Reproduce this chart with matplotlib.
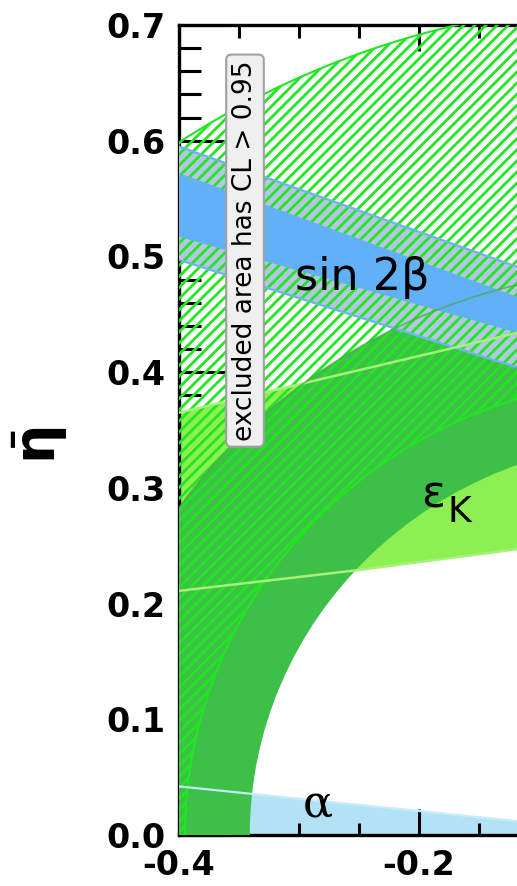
import matplotlib
matplotlib.use("Agg")
import matplotlib.pyplot as plt
from matplotlib.patches import Wedge, Polygon, Arc
from matplotlib.ticker import MultipleLocator


plt.rcParams["font.family"] = ["DejaVu Sans"]
plt.rcParams["mathtext.fontset"] = "dejavusans"
plt.rcParams["hatch.linewidth"] = 2.0

RHO_RANGE = (-0.4, -0.118)
ETA_RANGE = (0.0, 0.7)

# circular constraints centred on (0, 0), radii
HATCH_RADII = (0.395, 0.72)
BAND_RADII = (0.341, 0.49)

# eps_K band edges
EPSK_LOW_RHO = [-0.4, -0.25, -0.118]
EPSK_LOW_ETA = [0.211, 0.229, 0.247]
EPSK_HIGH_RHO = [-0.4, -0.118]
EPSK_HIGH_ETA = [0.365, 0.434]

# sin 2beta band edges at the two ends of the x range
S2B_RHO = [-0.4, -0.118]
S2B_OUTER_TOP = [0.595, 0.491]
S2B_INNER_TOP = [0.572, 0.465]
S2B_INNER_BOT = [0.517, 0.434]
S2B_OUTER_BOT = [0.497, 0.404]

# alpha band top edge
ALPHA_RHO = [-0.4, -0.118]
ALPHA_TOP = [0.042, 0.012]
ALPHA_BOT = [0.0, 0.0]

X_TICKS = [-0.4, -0.2]
X_TICK_LABELS = ["-0.4", "-0.2"]
Y_TICKS = [0.0, 0.1, 0.2, 0.3, 0.4, 0.5, 0.6, 0.7]
Y_TICK_LABELS = ["0.0", "0.1", "0.2", "0.3", "0.4", "0.5", "0.6", "0.7"]

LIGHT_GREEN = "#8cf052"
DARK_GREEN = "#3dbf48"
HATCH_GREEN = "#22e622"
S2B_LIGHT = "#b4c6e2"
S2B_BLUE = "#62b0f8"
ALPHA_BLUE = "#b2e2f6"


def band(rho_top, eta_top, rho_bot, eta_bot):
    pts = list(zip(rho_top, eta_top))
    pts += list(zip(rho_bot[::-1], eta_bot[::-1]))
    return pts


fig = plt.figure(figsize=(5.17, 8.86), dpi=100)
ax = fig.add_axes([179 / 517, 51 / 886, 338.4 / 517, 810 / 886])

# alpha
ax.add_patch(Polygon(band(ALPHA_RHO, ALPHA_TOP, ALPHA_RHO, ALPHA_BOT),
                     closed=True, facecolor=ALPHA_BLUE, edgecolor="none", zorder=1))

# eps_K
ax.add_patch(Polygon(band(EPSK_HIGH_RHO, EPSK_HIGH_ETA, EPSK_LOW_RHO, EPSK_LOW_ETA),
                     closed=True, facecolor=LIGHT_GREEN, edgecolor="none", zorder=2))

# dark green circular band
ax.add_patch(Wedge((0, 0), BAND_RADII[1], 0, 180, width=BAND_RADII[1] - BAND_RADII[0],
                   facecolor=DARK_GREEN, edgecolor="none", zorder=3))

# sin 2beta outer band
ax.add_patch(Polygon(band(S2B_RHO, S2B_OUTER_TOP, S2B_RHO, S2B_OUTER_BOT),
                     closed=True, facecolor=S2B_LIGHT, edgecolor="none", zorder=4))

# hatched excluded area
ax.add_patch(Wedge((0, 0), HATCH_RADII[1], 0, 180, width=HATCH_RADII[1] - HATCH_RADII[0],
                   facecolor="none", edgecolor=HATCH_GREEN, hatch="///",
                   linewidth=1.5, zorder=5))

# sin 2beta inner band
ax.add_patch(Polygon(band(S2B_RHO, S2B_INNER_TOP, S2B_RHO, S2B_INNER_BOT),
                     closed=True, facecolor=S2B_BLUE, edgecolor="none", zorder=6))

# contour lines drawn on top
ax.plot(S2B_RHO, S2B_OUTER_TOP, color="#72b2f2", lw=1.6, zorder=7)
ax.plot(S2B_RHO, S2B_OUTER_BOT, color="#72b2f2", lw=1.6, zorder=7)
ax.plot(EPSK_LOW_RHO, EPSK_LOW_ETA, color="#a8f07c", lw=1.8, zorder=7)
ax.plot(EPSK_HIGH_RHO, EPSK_HIGH_ETA, color="#a8f07c", lw=1.8, zorder=7)
ax.plot(ALPHA_RHO, ALPHA_TOP, color="#c8ecfa", lw=1.6, zorder=7)
ax.add_patch(Arc((0, 0), 2 * BAND_RADII[1], 2 * BAND_RADII[1], theta1=0, theta2=180,
                 color="#4aa84a", lw=1.3, alpha=0.7, zorder=7))

# labels
ax.text(-0.2475, 0.482, "sin 2β", fontsize=32, ha="center", va="center", zorder=8)
ax.text(-0.188, 0.294, "ε", fontsize=32, ha="center", va="center", zorder=8)
ax.text(-0.1667, 0.279, "K", fontsize=26, ha="center", va="center", zorder=8)
ax.text(-0.284, 0.027, "α", fontsize=32, family="DejaVu Serif",
        ha="center", va="center", zorder=8)
ax.text(-0.345, 0.505, "excluded area has CL > 0.95", rotation=90, fontsize=19,
        ha="center", va="center", zorder=9,
        bbox=dict(boxstyle="round,pad=0.22,rounding_size=0.2",
                  facecolor="#efefef", edgecolor="#a0a0a0", linewidth=1.5))

ax.text(-0.41, 0.481, r"$\bar{\mathbf{\eta}}$", fontsize=40, rotation=90,
        ha="center", va="center", transform=ax.transAxes)

ax.set_xlim(*RHO_RANGE)
ax.set_ylim(*ETA_RANGE)

ax.set_xticks(X_TICKS, labels=X_TICK_LABELS, fontweight="bold", fontsize=24)
ax.set_yticks(Y_TICKS, labels=Y_TICK_LABELS, fontweight="bold", fontsize=24)
ax.xaxis.set_minor_locator(MultipleLocator(0.05))
ax.yaxis.set_minor_locator(MultipleLocator(0.02))

ax.tick_params(axis="x", which="both", direction="in", top=True, bottom=True, width=2.2)
ax.tick_params(axis="x", which="major", length=19, pad=10)
ax.tick_params(axis="x", which="minor", length=9)
ax.tick_params(axis="y", which="both", direction="in", left=True, right=False, width=2.2)
ax.tick_params(axis="y", which="major", length=34, pad=10)
ax.tick_params(axis="y", which="minor", length=16)

for side in ["left", "top", "bottom"]:
    ax.spines[side].set_linewidth(2.4)
ax.spines["right"].set_visible(False)

fig.savefig("out.png", dpi=100)
plt.close(fig)
